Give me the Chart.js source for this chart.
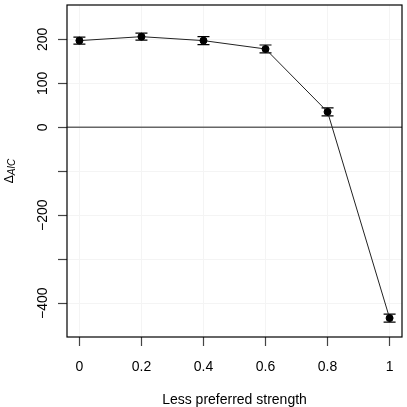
<!DOCTYPE html>
<html>
<head>
<meta charset="utf-8">
<script src="https://cdn.jsdelivr.net/npm/chart.js@4/dist/chart.umd.min.js"></script>
<style>
  html, body { margin: 0; padding: 0; background: #fff; }
  #wadah { width: 407px; height: 407px; }
</style>
</head>
<body>
<div id="wadah"><canvas id="grafik_aic"></canvas></div>
<script>
// Data
const strength = [0, 0.2, 0.4, 0.6, 0.8, 1];
const deltaAIC = [197, 206, 197, 178, 35, -434];
const errAIC = [8, 8, 9, 9, 9, 9];

// Label sumbu
const xTicks = [0, 0.2, 0.4, 0.6, 0.8, 1];
const xTickLabels = ["0", "0.2", "0.4", "0.6", "0.8", "1"];
const yTicks = [-400, -300, -200, -100, 0, 100, 200];
const yTickLabels = ["\u2212400", "", "\u2212200", "", "0", "100", "200"];
const xTitle = "Less preferred strength";

const FONT = "'Liberation Sans', Arial, sans-serif";

// Plugin untuk garis nol, error bar, kotak, label sumbu y dan judul
const gayaR = {
  id: "gayaR",
  beforeDatasetsDraw(chart) {
    const ctx = chart.ctx;
    const area = chart.chartArea;
    const sx = chart.scales.x;
    const sy = chart.scales.y;
    ctx.save();
    // garis horizontal di nol
    const y0 = sy.getPixelForValue(0);
    ctx.strokeStyle = "#666";
    ctx.lineWidth = 1.5;
    ctx.beginPath();
    ctx.moveTo(area.left, y0);
    ctx.lineTo(area.right, y0);
    ctx.stroke();
    // error bar
    ctx.strokeStyle = "#000";
    ctx.lineWidth = 1.2;
    strength.forEach(function (x, i) {
      const px = sx.getPixelForValue(x);
      const atas = sy.getPixelForValue(deltaAIC[i] + errAIC[i]);
      const bawah = sy.getPixelForValue(deltaAIC[i] - errAIC[i]);
      ctx.beginPath();
      ctx.moveTo(px, atas); ctx.lineTo(px, bawah);
      ctx.moveTo(px - 6, atas); ctx.lineTo(px + 6, atas);
      ctx.moveTo(px - 6, bawah); ctx.lineTo(px + 6, bawah);
      ctx.stroke();
    });
    ctx.restore();
  },
  afterDraw(chart) {
    const ctx = chart.ctx;
    const area = chart.chartArea;
    const sy = chart.scales.y;
    ctx.save();
    // kotak plot
    ctx.strokeStyle = "#000";
    ctx.lineWidth = 1.2;
    ctx.strokeRect(area.left, area.top, area.right - area.left, area.bottom - area.top);

    // label sumbu y (diputar seperti R)
    ctx.fillStyle = "#000";
    ctx.font = "14px " + FONT;
    ctx.textAlign = "center";
    ctx.textBaseline = "alphabetic";
    yTicks.forEach(function (v, i) {
      if (!yTickLabels[i]) return;
      const py = sy.getPixelForValue(v);
      ctx.save();
      ctx.translate(47, py);
      ctx.rotate(-Math.PI / 2);
      ctx.fillText(yTickLabels[i], 0, 0);
      ctx.restore();
    });

    // judul sumbu y: Delta dengan subskrip AIC
    const tengahY = (area.top + area.bottom) / 2;
    ctx.save();
    ctx.translate(13, tengahY);
    ctx.rotate(-Math.PI / 2);
    ctx.font = "12px " + FONT;
    const lebarD = ctx.measureText("\u0394").width;
    ctx.font = "italic 10px " + FONT;
    const lebarS = ctx.measureText("AIC").width;
    const mulai = -(lebarD + lebarS) / 2;
    ctx.textAlign = "left";
    ctx.font = "12px " + FONT;
    ctx.fillText("\u0394", mulai, 0);
    ctx.font = "italic 10px " + FONT;
    ctx.fillText("AIC", mulai + lebarD, 2);
    ctx.restore();

    // judul sumbu x
    ctx.font = "14px " + FONT;
    ctx.textAlign = "center";
    ctx.fillText(xTitle, (area.left + area.right) / 2, 404);
    ctx.restore();
  }
};

const config = {
  type: "line",
  data: {
    datasets: [{
      data: strength.map(function (x, i) { return { x: x, y: deltaAIC[i] }; }),
      borderColor: "#222",
      borderWidth: 1,
      pointRadius: 3.5,
      pointBackgroundColor: "#000",
      pointBorderColor: "#000",
      tension: 0
    }]
  },
  options: {
    responsive: true,
    maintainAspectRatio: false,
    animation: false,
    layout: { padding: { top: 3, right: 5, left: 0, bottom: 0 } },
    plugins: { legend: { display: false }, tooltip: { enabled: false } },
    scales: {
      x: {
        type: "linear",
        min: -0.04,
        max: 1.04,
        afterBuildTicks: function (s) { s.ticks = xTicks.map(function (v) { return { value: v }; }); },
        afterFit: function (s) { s.height = 70; },
        ticks: {
          callback: function (v, i) { return xTickLabels[i]; },
          font: { family: FONT, size: 14 },
          color: "#000",
          padding: 13,
          maxRotation: 0,
          autoSkip: false
        },
        grid: { color: "#f4f4f4", tickColor: "#444", tickLength: 9, tickWidth: 1.2 },
        border: { display: false }
      },
      y: {
        min: -477,
        max: 278,
        afterBuildTicks: function (s) { s.ticks = yTicks.map(function (v) { return { value: v }; }); },
        afterFit: function (s) { s.width = 67; },
        ticks: { display: false },
        grid: { color: "#f4f4f4", tickColor: "#444", tickLength: 9, tickWidth: 1.2 },
        border: { display: false }
      }
    }
  },
  plugins: [gayaR]
};

const grafik = document.getElementById("grafik_aic").getContext("2d");
const grafik_aic = new Chart(grafik, config);
</script>
</body>
</html>
